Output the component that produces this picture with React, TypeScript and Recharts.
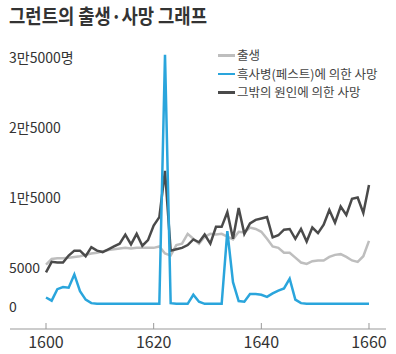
import { LineChart, Line, XAxis, YAxis } from "recharts"

// 그런트(Graunt)의 런던 사망표, 연도별 (명)
const years = [
  1604, 1605, 1606, 1607, 1608, 1609, 1610, 1611, 1612, 1613, 1614, 1615, 1616, 1617, 1618,
  1619, 1620, 1621, 1622, 1623, 1624, 1625, 1626, 1627, 1628, 1629, 1630, 1631, 1632, 1633,
  1634, 1635, 1636, 1637, 1638, 1639, 1640, 1641, 1642, 1643, 1644, 1645, 1646, 1647, 1648,
  1649, 1650, 1651, 1652, 1653, 1654, 1655, 1656, 1657, 1658, 1659, 1660, 1661,
]

const births = [
  5600, 6400, 6500, 6500, 6600, 6700, 6800, 7000, 7200, 7300, 7500, 7700, 7800, 7900, 8000,
  7900, 8000, 8000, 8000, 8000, 8200, 7200, 6900, 8400, 8600, 10000, 9300, 8600, 9600, 10000,
  9900, 10000, 9600, 9200, 10300, 10200, 10900, 10700, 10300, 9300, 8200, 8000, 7300, 7300, 6600,
  5900, 5700, 6100, 6200, 6200, 6700, 7000, 7100, 6700, 6200, 6000, 6800, 9000,
]

const plagueDeaths = [
  900, 450, 2100, 2400, 2300, 4200, 1800, 600, 100, 0, 0, 0, 0, 0, 0,
  0, 0, 0, 0, 0, 0, 35600, 100, 0, 0, 0, 1300, 300, 0, 0,
  0, 0, 10400, 3100, 400, 300, 1400, 1400, 1300, 1000, 1500, 1900, 2200, 3600, 600,
  100, 0, 0, 0, 0, 0, 0, 0, 0, 0, 0, 0, 0,
]

const otherDeaths = [
  4500, 6000, 5900, 5900, 6900, 7600, 7600, 6800, 8100, 7600, 7400, 7800, 8200, 8600, 9900,
  8500, 10000, 8300, 9100, 11200, 12400, 19000, 7600, 7800, 8000, 8400, 9200, 8800, 9900, 8600,
  11000, 11000, 13100, 9300, 13700, 10000, 11500, 12000, 12200, 12400, 9500, 9800, 10600, 10700, 9300,
  10700, 8900, 10900, 10100, 11300, 13400, 11600, 13900, 12700, 15000, 15200, 13000, 17000,
]

const xTicks = [1600, 1620, 1640, 1660]
const yTicks = [0, 5000, 15000, 25000, 35000]
const yTickLabels = ["0", "5000", "1만5000", "2만5000", "3만5000명"]

const seriesNames = ["출생", "흑사병(페스트)에 의한 사망", "그밖의 원인에 의한 사망"]
const title = "그런트의 출생·사망 그래프"

const GRAY = "#bebebe"
const BLUE = "#2aa5dc"
const DARK = "#4a4a4a"
const FONT = '"Liberation Sans Narrow", "Noto Sans CJK KR", sans-serif'

const data = years.map((year, i) => ({
  year,
  births: births[i],
  plague: plagueDeaths[i],
  other: otherDeaths[i],
}))

function YTick({ y, payload }: any) {
  const v = Number(payload.value)
  const idx = yTicks.indexOf(v)
  const label = idx >= 0 ? yTickLabels[idx] : String(payload.value)
  return (
    <text
      x={9}
      y={y}
      dy={v === 0 ? 2 : -1.5}
      dominantBaseline="central"
      fontSize={14}
      fill="#333"
      fontFamily={FONT}
    >
      {label}
    </text>
  )
}

function XTick({ x, y, payload }: any) {
  return (
    <g>
      <line x1={x} x2={x} y1={y - 6} y2={y} stroke="#999" />
      <text x={x} y={y + 19} textAnchor="middle" fontSize={16} fill="#333" fontFamily={FONT}>
        {payload.value}
      </text>
    </g>
  )
}

function LegendBox() {
  const colors = [GRAY, BLUE, DARK]
  return (
    <div
      style={{
        position: "absolute",
        top: 46,
        left: 218,
        fontFamily: '"Noto Sans CJK KR", sans-serif',
        fontSize: 12.5,
        color: "#444",
        lineHeight: "18.5px",
      }}
    >
      {seriesNames.map((name, i) => (
        <div key={name} style={{ display: "flex", alignItems: "center", whiteSpace: "nowrap" }}>
          <span style={{ display: "inline-block", width: 17, height: 2.5, background: colors[i], marginRight: 2 }} />
          {name}
        </div>
      ))}
    </div>
  )
}

export default function App() {
  return (
    <div style={{ position: "relative", width: 396, height: 354, background: "#fff" }}>
      <style>{"body{margin:0}"}</style>
      <LineChart width={396} height={354} data={data} margin={{ top: 52, right: 10, left: 9, bottom: 0 }}>
        <XAxis
          xAxisId="ticks"
          type="number"
          dataKey="year"
          domain={[1593.31, 1663.16]}
          allowDataOverflow
          ticks={xTicks}
          interval={0}
          height={25}
          tickSize={0}
          tickMargin={0}
          tickLine={false}
          axisLine={{ stroke: "#999" }}
          tick={(props: any) => <XTick {...props} />}
        />
        <XAxis xAxisId="data" dataKey="year" hide height={0} padding={{ left: 36, right: 17 }} />
        <YAxis
          width={1}
          domain={[-3600, 36000]}
          ticks={yTicks}
          interval={0}
          axisLine={false}
          tickLine={false}
          tick={(props: any) => <YTick {...props} />}
        />
        <Line xAxisId="data" dataKey="births" name={seriesNames[0]} stroke={GRAY} strokeWidth={2.5} dot={false} isAnimationActive={false} />
        <Line xAxisId="data" dataKey="other" name={seriesNames[2]} stroke={DARK} strokeWidth={2.5} dot={false} isAnimationActive={false} />
        <Line xAxisId="data" dataKey="plague" name={seriesNames[1]} stroke={BLUE} strokeWidth={2.5} dot={false} isAnimationActive={false} />
      </LineChart>
      <svg width={396} height={32} style={{ position: "absolute", left: 0, top: 0 }}>
        <text
          x={9}
          y={24}
          textLength={198}
          lengthAdjust="spacingAndGlyphs"
          fontSize={20}
          fontWeight={700}
          fill="#333"
          fontFamily='"Noto Sans CJK KR", sans-serif'
        >
          {title}
        </text>
      </svg>
      <LegendBox />
    </div>
  )
}
